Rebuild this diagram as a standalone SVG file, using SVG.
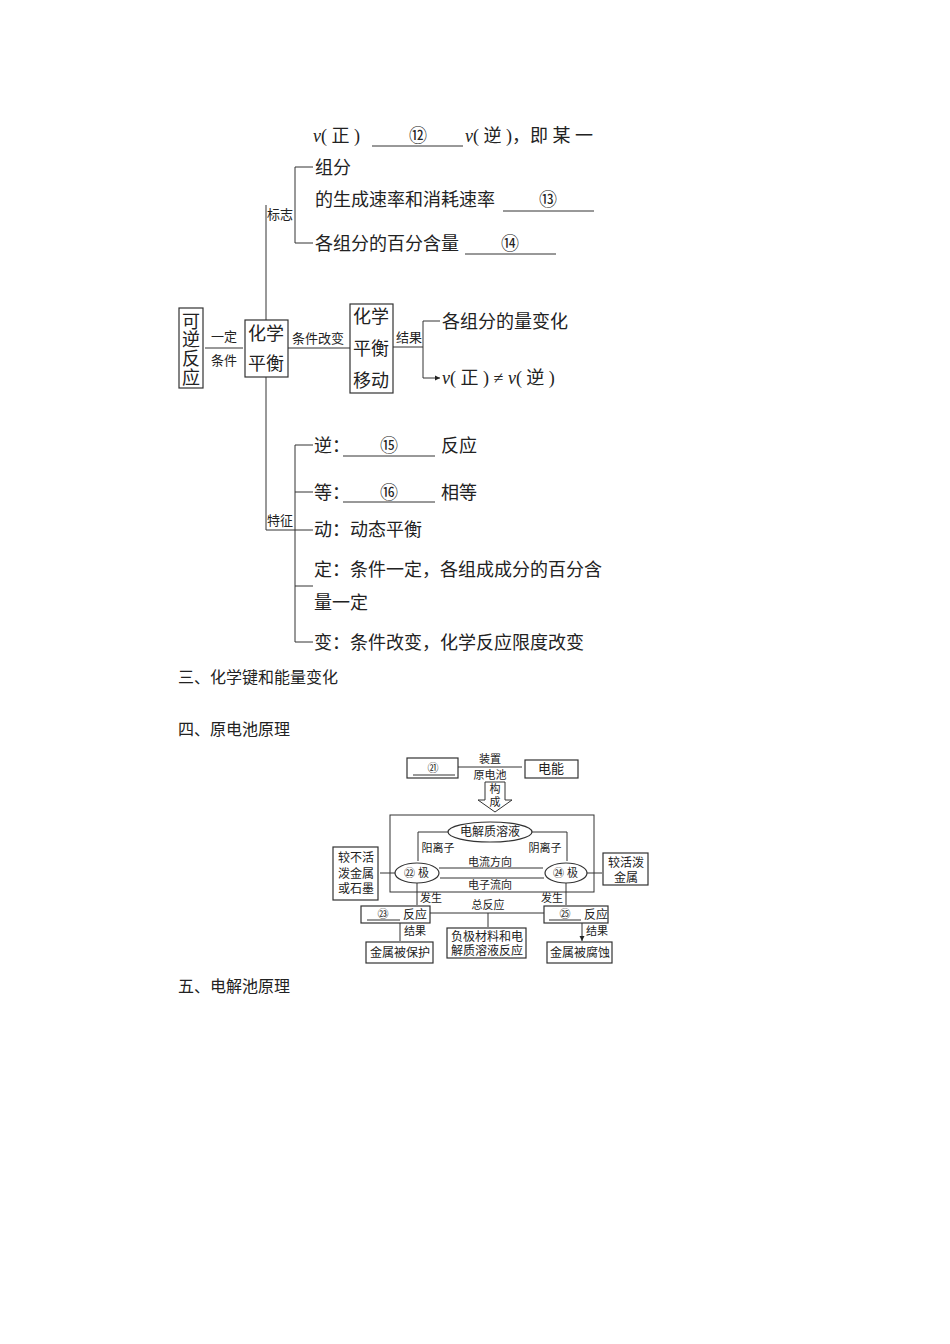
<svg xmlns="http://www.w3.org/2000/svg" width="950" height="1344" viewBox="0 0 950 1344">
<defs>
<marker id="a" markerWidth="6" markerHeight="6" refX="5" refY="3" orient="auto" markerUnits="userSpaceOnUse"><path d="M0,0.5 L5,3 L0,5.5 Z" fill="#222"/></marker>
<style>
text{font-family:"Liberation Serif","Noto Sans CJK SC",serif;fill:#222}
.s{font-family:"Liberation Sans","Noto Sans CJK SC",sans-serif}
.l{stroke:#333;stroke-width:1;fill:none}
.ar{stroke:#333;stroke-width:1;fill:none;marker-end:url(#a)}
.b{stroke:#333;stroke-width:1.2;fill:#fff}
.f18{font-size:18px}.f13{font-size:13px}.f11{font-size:11px}.f12{font-size:12px}
.m{text-anchor:middle}
</style>
</defs>
<rect width="950" height="1344" fill="#fff"/>
<g id="connectors">
<path class="l" d="M266,205 V320 M266,377 V530 H295 M295,167 V243 M295,445 V642 M288,348 H350 M393,347 H423 M423,321 V378"/>
<path class="ar" d="M295,167 H313 M295,243 H313 M205,348 H243 M423,321 H440 M423,378 H440"/>
<path class="l" d="M295,445 H313 M295,492 H313 M295,530 H313 M295,586 H313 M295,642 H313"/>
<path class="l" d="M372,146 H463 M503,211 H594 M465,254 H556 M343,456 H435 M343,502 H435"/>
<path class="ar" d="M458,767 H522 M448,832 H418 V861 M532,832 H567 V861 M439,868 H543 M544,878 H440 M395,873 H380 M587,873 H602 M417,883 V905 M566,883 V905 M488,913 V927 M400,923 V941 M582,923 V941"/>
<path class="l" d="M430,913 H544"/>
</g>
<g id="n-text-top">
<text class="f18" x="313" y="142"><tspan font-style="italic">v</tspan>( 正 )</text>
<text class="f18 m" x="418" y="142">⑫</text>
<text class="f18" x="465" y="142"><tspan font-style="italic">v</tspan>( 逆 )，即 某 一</text>
<text class="f18" x="315" y="174">组分</text>
<text class="f18" x="315" y="206">的生成速率和消耗速率</text>
<text class="f18 m" x="548" y="206">⑬</text>
<text class="f18" x="315" y="250">各组分的百分含量</text>
<text class="f18 m" x="510" y="250">⑭</text>
<text class="f13" x="267" y="219">标志</text>
</g>
<g id="n-kenifanying"><rect class="b" x="179" y="308" width="24" height="80"/>
<text class="f18 m" x="191" y="328">可</text><text class="f18 m" x="191" y="346">逆</text><text class="f18 m" x="191" y="365">反</text><text class="f18 m" x="191" y="384">应</text></g>
<text class="f13 m" x="224" y="341">一定</text><text class="f13 m" x="224" y="365">条件</text>
<g id="n-pingheng"><rect class="b" x="245" y="320" width="43" height="57"/>
<text class="f18 m" x="266" y="340">化学</text><text class="f18 m" x="266" y="370">平衡</text></g>
<text class="f13 m" x="318" y="343">条件改变</text>
<g id="n-yidong"><rect class="b" x="350" y="304" width="43" height="89"/>
<text class="f18 m" x="371" y="323">化学</text><text class="f18 m" x="371" y="355">平衡</text><text class="f18 m" x="371" y="387">移动</text></g>
<text class="f13 m" x="409" y="342">结果</text>
<text class="f18" x="442" y="328">各组分的量变化</text>
<text class="f18" x="442" y="384"><tspan font-style="italic">v</tspan>( 正 ) ≠ <tspan font-style="italic">v</tspan>( 逆 )</text>
<g id="n-tezheng">
<text class="f13" x="267" y="525">特征</text>
<text class="f18" x="314" y="452">逆：</text><text class="f18 m" x="389" y="452">⑮</text><text class="f18" x="441" y="452">反应</text>
<text class="f18" x="314" y="499">等：</text><text class="f18 m" x="389" y="499">⑯</text><text class="f18" x="441" y="499">相等</text>
<text class="f18" x="314" y="536">动：动态平衡</text>
<text class="f18" x="314" y="576">定：条件一定，各组成成分的百分含</text>
<text class="f18" x="314" y="609">量一定</text>
<text class="f18" x="314" y="649">变：条件改变，化学反应限度改变</text>
</g>
<g id="headings" font-size="16">
<text x="178" y="683" font-size="16">三、化学键和能量变化</text>
<text x="178" y="735" font-size="16">四、原电池原理</text>
<text x="178" y="992" font-size="16">五、电解池原理</text>
</g>
<g id="battery" class="s">
<g id="n21"><rect class="b" x="407" y="758" width="51" height="20"/><path class="l" d="M413,775 H455"/><text class="s f11 m" x="433" y="772">㉑</text></g>
<text class="s f11 m" x="490" y="763">装置</text><text class="s f11 m" x="490" y="779">原电池</text>
<g id="n-dianneng"><rect class="b" x="525" y="760" width="53" height="18"/><text class="s f13 m" x="551" y="773">电能</text></g>
<g id="n-arrow"><path class="l" d="M485,782 H505 V800 H512 L495,812 L478,800 H485 Z"/><text class="s f11 m" x="495" y="793">构</text><text class="s f11 m" x="495" y="806">成</text></g>
<rect class="l" x="390" y="815" width="204" height="77"/>
<g id="n-ele"><ellipse class="b" cx="490" cy="832" rx="42" ry="10"/><text class="s f12 m" x="490" y="836">电解质溶液</text></g>
<text class="s f11 m" x="438" y="852">阳离子</text><text class="s f11 m" x="545" y="852">阴离子</text>
<g id="n22"><ellipse class="b" cx="417" cy="873" rx="22" ry="10"/><text class="s f11" x="404" y="877">㉒ 极</text></g>
<g id="n24"><ellipse class="b" cx="566" cy="873" rx="21" ry="10"/><text class="s f11" x="553" y="877">㉔ 极</text></g>
<text class="s f11 m" x="490" y="866">电流方向</text><text class="s f11 m" x="490" y="889">电子流向</text>
<g id="n-left"><rect class="b" x="333" y="847" width="45" height="53"/>
<text class="s f12 m" x="356" y="862">较不活</text><text class="s f12 m" x="356" y="878">泼金属</text><text class="s f12 m" x="356" y="893">或石墨</text></g>
<g id="n-right"><rect class="b" x="603" y="853" width="45" height="32"/>
<text class="s f12 m" x="626" y="867">较活泼</text><text class="s f12 m" x="626" y="882">金属</text></g>
<text class="s f11" x="420" y="902">发生</text><text class="s f11" x="563" y="902" text-anchor="end">发生</text>
<g id="n23"><rect class="b" x="361" y="906" width="69" height="17"/><path class="l" d="M367,920 H400"/><text class="s f11 m" x="383" y="918">㉓</text><text class="s f12" x="403" y="919">反应</text></g>
<g id="n25"><rect class="b" x="544" y="906" width="64" height="17"/><path class="l" d="M549,920 H581"/><text class="s f11 m" x="565" y="918">㉕</text><text class="s f12" x="584" y="919">反应</text></g>
<text class="s f11 m" x="488" y="909">总反应</text>
<g id="n-fuji"><rect class="b" x="447" y="928" width="79" height="30"/>
<text class="s f12 m" x="487" y="941">负极材料和电</text><text class="s f12 m" x="487" y="955">解质溶液反应</text></g>
<text class="s f11" x="404" y="935">结果</text><text class="s f11" x="586" y="935">结果</text>
<g id="n-baohu"><rect class="b" x="366" y="942" width="67" height="21"/><text class="s f12 m" x="400" y="957">金属被保护</text></g>
<g id="n-fushi"><rect class="b" x="547" y="942" width="65" height="21"/><text class="s f12 m" x="580" y="957">金属被腐蚀</text></g>
</g>
</svg>
